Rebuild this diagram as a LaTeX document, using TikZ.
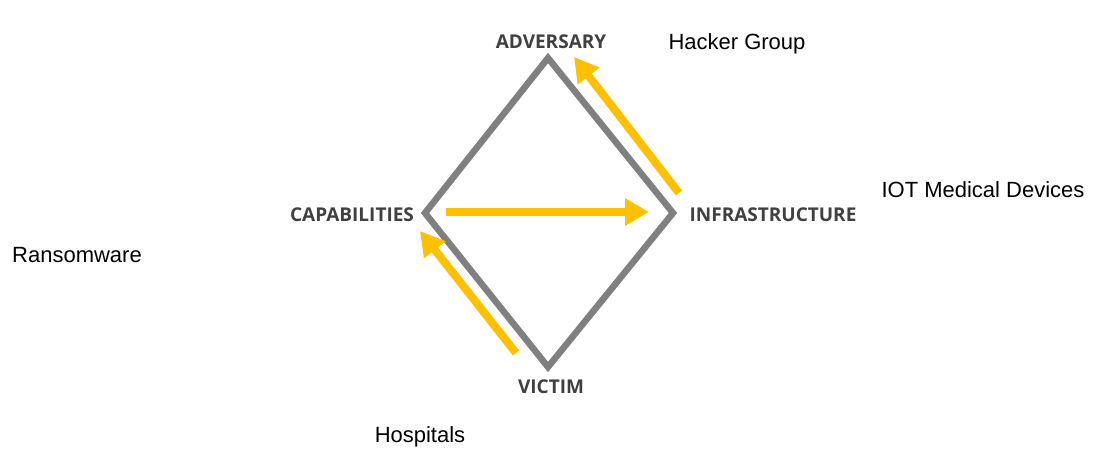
\documentclass[tikz,border=0pt]{standalone}
\usepackage{fontspec}
\setmainfont{Liberation Sans}
\newfontfamily\labelfont{Open Sans}
\usetikzlibrary{arrows.meta}
\definecolor{edgegray}{HTML}{808080}
\definecolor{labelgray}{HTML}{404040}
\definecolor{flowyellow}{HTML}{FFC000}
\begin{document}
\begin{tikzpicture}[x=1pt,y=-1pt,
  corner/.style={font=\labelfont\bfseries\fontsize{19}{22}\selectfont, text=labelgray, inner sep=0pt},
  note/.style={font=\fontsize{22}{26}\selectfont, text=black, inner sep=0pt},
  flow/.style={draw=flowyellow, line width=8pt, -{Triangle[length=24pt,width=26pt]}}]
\useasboundingbox (0,0) rectangle (1117,458);
% diamond corners
\coordinate (top) at (548,58);
\coordinate (left) at (425,213);
\coordinate (right) at (673,213);
\coordinate (bottom) at (548,367);
\draw[edgegray, line width=6.5pt, line join=miter] (top) -- (right) -- (bottom) -- (left) -- cycle;
% corner labels
\node[corner] (adv) at (551,42) {ADVERSARY};
\node[corner] (cap) at (352,215) {CAPABILITIES};
\node[corner] (inf) at (773,215) {INFRASTRUCTURE};
\node[corner] (vic) at (551,387) {VICTIM};
% example labels
\node[note] (hg) at (737,44) {Hacker Group};
\node[note] (iot) at (983,190) {IOT Medical Devices};
\node[note] (rw) at (77,255) {Ransomware};
\node[note] (hp) at (420,437) {Hospitals};
% yellow flows
\coordinate (a1s) at (679,193);
\coordinate (a1e) at (574,57);
\coordinate (a2s) at (446,212);
\coordinate (a2e) at (649,212);
\coordinate (a3s) at (516,353);
\coordinate (a3e) at (420,231);
\draw[flow] (a1s) -- (a1e);
\draw[flow] (a2s) -- (a2e);
\draw[flow] (a3s) -- (a3e);
\end{tikzpicture}
\end{document}
